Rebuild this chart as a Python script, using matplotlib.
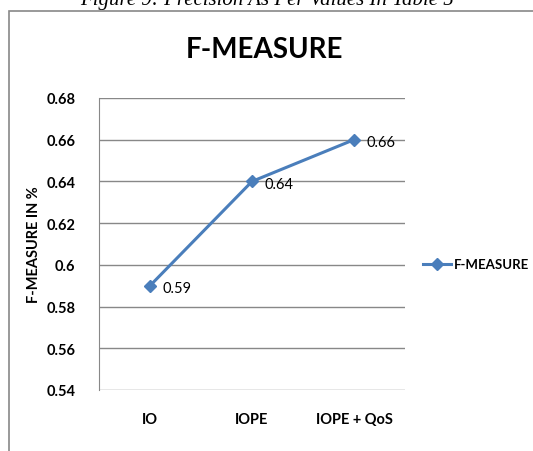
import matplotlib.pyplot as plt
from matplotlib.patches import Rectangle

# data
categories = ['IO', 'IOPE', 'IOPE + QoS']
f_measure = [0.59, 0.64, 0.66]
y_ticks = [0.54, 0.56, 0.58, 0.60, 0.62, 0.64, 0.66, 0.68]
y_tick_labels = ['0.54', '0.56', '0.58', '0.6', '0.62', '0.64', '0.66', '0.68']

font = ['Lato', 'DejaVu Sans']
blue = '#4A7EBB'

fig = plt.figure(figsize=(5.33, 4.52), dpi=100)

# caption, cut off at the top
fig.text(0.5, 1.0, 'Figure 9: Precision As Per Values In Table 5', ha='center', va='center',
         fontsize=15, style='italic', family='Liberation Serif')

# outer chart border
fig.patches.append(Rectangle((9 / 533, -0.05), 1.1, 1 - 12 / 452 + 0.05, transform=fig.transFigure,
                             fill=False, edgecolor='#888888', linewidth=1.2))

ax = fig.add_axes([99 / 533, 1 - 391 / 452, 306 / 533, 292 / 452])
x = list(range(len(categories)))
ax.plot(x, f_measure, color=blue, linewidth=2.2, marker='D', markersize=6, label='F-MEASURE')
for xi, v in zip(x, f_measure):
    ax.annotate(f'{v:.2f}', (xi, v), xytext=(9, -2), textcoords='offset points',
                ha='left', va='center', fontsize=10.5, family=font)

ax.set_xlim(-0.5, len(categories) - 0.5)
ax.set_ylim(0.54, 0.68)
ax.set_yticks(y_ticks)
ax.set_yticklabels(y_tick_labels, family=font, fontsize=10.5, fontweight='bold')
ax.set_xticks(x)
ax.set_xticklabels(categories, family=font, fontsize=10.5, fontweight='bold')
ax.tick_params(length=0)
ax.tick_params(axis='y', pad=17)
ax.tick_params(axis='x', pad=16)
ax.grid(axis='y', color='#888888', linewidth=1)
for s in ['top', 'right', 'bottom']:
    ax.spines[s].set_visible(False)
ax.spines['left'].set_color('#888888')
ax.set_ylabel('F-MEASURE IN %', family=font, fontsize=10.5, fontweight='bold', labelpad=4)

fig.text(0.497, 1 - 50 / 452, 'F-MEASURE', ha='center', va='center', fontsize=20,
         fontweight='bold', family=font)

ax.legend(loc='center left', bbox_to_anchor=(1.02, 0.43), frameon=False,
          prop={'family': font, 'size': 9.5, 'weight': 'bold'}, handlelength=2.1, handletextpad=0.25)

fig.savefig('out.png', dpi=100)
